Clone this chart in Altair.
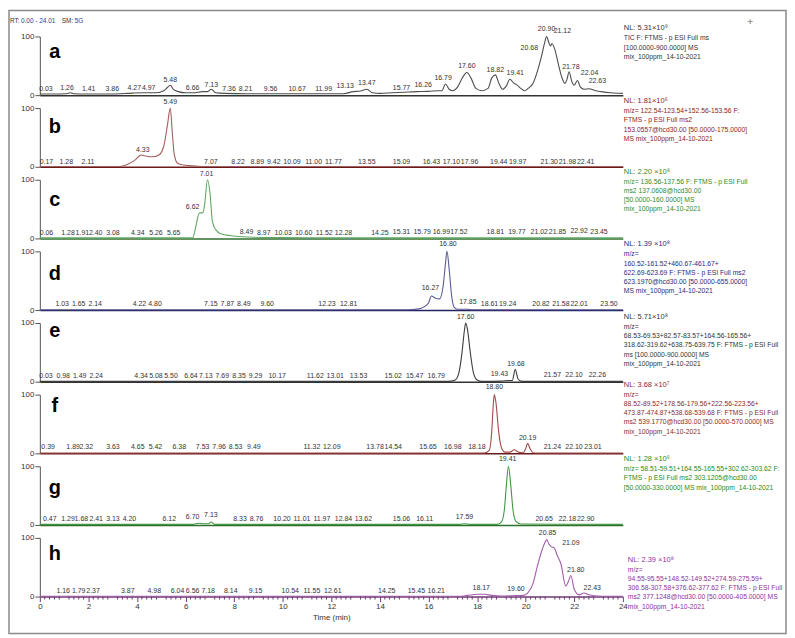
import altair as alt
import pandas as pd

FONT = "Liberation Sans, Arial, sans-serif"

# ---------------- traces (time in min, relative abundance %) ----------------
a_t = [0, 0.6, 1.1, 1.25, 1.4, 2.0, 3.0, 3.8, 4.3, 4.8, 5.1, 5.25, 5.37, 5.5, 5.7,
       6.0, 6.3, 6.7, 6.9, 7.06, 7.25, 7.6, 8.5, 9.5, 10.5, 11.5, 12.5, 12.9, 13.2, 13.46,
       13.7, 14.0, 14.5, 15.0, 15.5, 16.0, 16.4, 16.55, 16.7, 16.85, 17.0, 17.2, 17.4, 17.58, 17.75,
       17.95, 18.2, 18.45, 18.6, 18.75, 18.9, 19.05, 19.2, 19.35, 19.5, 19.65, 19.8, 19.95, 20.1, 20.3,
       20.5, 20.65, 20.78, 20.86, 20.95, 21.02, 21.08, 21.2, 21.35, 21.5, 21.62, 21.7, 21.79, 21.9, 22.0,
       22.13, 22.25, 22.4, 22.6, 22.88, 23.1, 23.5, 24.0]
a_v = [2, 2, 2.5, 4, 2.5, 2, 2, 3.5, 4, 4, 7.5, 13, 17, 10, 6,
       4, 4, 6, 6, 10, 4, 3, 2.5, 2.5, 2.5, 2.5, 2.5, 6, 7, 10,
       4, 3, 4, 5, 6, 6.5, 7.5, 7.5, 19, 10, 7.5, 14, 30, 38.5, 29,
       11.5, 7.5, 11.5, 29, 34.5, 20, 10, 15.5, 27, 21, 17, 11.5, 7.5, 11.5, 20,
       43, 66, 89, 100, 90, 84, 88, 78, 52, 29, 20, 27, 40, 23, 17,
       25, 14, 10, 11, 7.5, 6, 4, 3]

b_t = [0, 3.28, 3.6, 3.9, 4.17, 4.4, 4.65, 4.9, 5.1, 5.25, 5.37, 5.45, 5.53, 5.67, 5.9, 6.5, 7.0, 24.0]
b_v = [0.5, 0.5, 4, 11, 20, 18, 17, 20, 35, 70, 100, 60, 22, 6, 3, 1, 0.5, 0.5]

c_t = [0, 6.29, 6.42, 6.56, 6.72, 6.79, 6.9, 7.01, 7.1, 7.24, 7.45, 8.0, 8.8, 10.0, 12.0, 24.0]
c_v = [1, 1, 20, 43, 44, 60, 100, 75, 30, 15, 8, 4, 2, 1.5, 1, 1]

d_t = [0, 15.1, 15.6, 15.8, 16.0, 16.12, 16.3, 16.45, 16.6, 16.7, 16.76, 16.85, 16.95, 17.05, 17.2, 17.6, 17.8, 24.0]
d_v = [0.5, 0.5, 2, 5, 12, 24, 20, 19, 40, 80, 100, 70, 25, 5, 1.5, 1.5, 0.5, 0.5]

e_t = [0, 16.8, 17.1, 17.25, 17.38, 17.48, 17.53, 17.6, 17.72, 17.85, 18.0, 18.2, 19.0, 19.3, 19.45, 19.57, 19.68, 19.8, 20.0, 24.0]
e_v = [0.5, 0.5, 3, 15, 50, 88, 100, 90, 50, 15, 3, 0.5, 1, 2, 2, 21, 5, 1, 0.5, 0.5]

f_t = [0, 18.3, 18.5, 18.6, 18.67, 18.71, 18.78, 18.88, 19.0, 19.15, 19.35, 19.53, 19.7, 19.9, 20.0, 20.08, 20.18, 20.3, 20.5, 24.0]
f_v = [0.5, 0.5, 5, 35, 85, 100, 85, 40, 10, 2, 2, 6, 2, 1, 8, 17, 8, 1, 0.5, 0.5]

g_t = [0, 6.3, 6.55, 6.75, 6.95, 7.04, 7.2, 17.3, 17.48, 17.7, 18.8, 19.0, 19.12, 19.2, 19.29, 19.38, 19.48, 19.6, 19.8, 24.0]
g_v = [1, 1, 3, 2, 2, 5, 1, 1, 2, 1, 1, 5, 25, 65, 100, 70, 25, 6, 1.5, 1]

h_t = [0, 17.3, 17.6, 18.0, 18.3, 18.6, 19.0, 19.5, 19.9, 20.08, 20.3, 20.49, 20.76, 20.87, 20.95,
       21.05, 21.17, 21.3, 21.45, 21.65, 21.75, 21.86, 22.0, 22.2, 22.4, 22.6, 22.8, 23.5, 24.0]
h_v = [0.5, 0.5, 2, 4, 4, 2, 1, 1.5, 2, 6, 22, 53, 89, 97, 90,
       85, 83, 70, 56, 18, 25, 36, 12.5, 3, 6, 3, 1.5, 0.5, 0.5]

# ---------------- peak labels (text, drawn position in min, level %) ----------------
a_lt = ["0.03", "1.26", "1.41", "3.86", "4.27", "4.97", "5.48", "6.66", "7.13", "7.36", "8.21", "9.56", "10.67", "11.99",
        "13.13", "13.47", "15.77", "16.26", "16.79", "17.60", "18.82", "19.41", "20.68", "20.90", "21.12", "21.78", "22.04", "22.63"]
a_lx = [0.25, 1.12, 2.01, 2.98, 3.89, 4.48, 5.37, 6.29, 7.06, 7.79, 8.47, 9.5, 10.59, 11.68,
        12.57, 13.46, 14.89, 15.78, 16.6, 17.58, 18.75, 19.57, 20.15, 20.86, 21.51, 21.86, 22.63, 22.95]
a_ly = [10, 11.5, 10, 10, 11.5, 11.5, 26, 11.5, 17, 10, 10, 10, 10, 10,
        15.5, 20, 13, 17, 30, 49, 43, 38.5, 80, 113, 109, 48, 37, 24]

b_lt = ["0.17", "1.28", "2.11", "4.33", "5.49", "7.07", "8.22", "8.89", "9.42", "10.09", "11.00", "11.77", "13.55",
        "15.09", "16.43", "17.10", "17.96", "19.44", "19.97", "21.30", "21.98", "22.41"]
b_lx = [0.27, 1.09, 1.98, 4.24, 5.37, 7.04, 8.16, 8.95, 9.63, 10.38, 11.27, 12.09, 13.46,
        14.89, 16.12, 16.94, 17.69, 18.89, 19.67, 20.97, 21.72, 22.47]
b_ly = [8.5, 8.5, 8.5, 28, 110, 8.5, 8.5, 8.5, 8.5, 8.5, 8.5, 8.5, 8.5,
        8.5, 8.5, 8.5, 8.5, 8.5, 8.5, 8.5, 8.5, 8.5]

c_lt = ["0.06", "1.28", "1.91", "2.40", "3.08", "4.34", "5.26", "5.65", "6.62", "7.01", "8.49", "8.97", "10.03", "10.60",
        "11.52", "12.28", "14.25", "15.31", "15.79", "16.99", "17.52", "18.81", "19.77", "21.02", "21.85", "22.92", "23.45"]
c_lx = [0.27, 1.16, 1.75, 2.3, 3.01, 4.03, 4.78, 5.51, 6.29, 6.86, 8.51, 9.22, 10.02, 10.86,
        11.71, 12.5, 14.0, 14.89, 15.74, 16.53, 17.25, 18.75, 19.64, 20.56, 21.31, 22.2, 23.02]
c_ly = [9.6, 9.6, 9.6, 9.6, 9.6, 9.6, 9.6, 9.6, 53, 110, 11, 9.6, 9.6, 9.6,
        9.6, 9.6, 9.6, 11, 11, 11, 11, 11, 11, 11, 11, 13, 11]

d_lt = ["1.03", "1.65", "2.14", "4.22", "4.80", "7.15", "7.87", "8.49", "9.60", "12.23", "12.81",
        "16.27", "16.80", "17.85", "18.61", "19.24", "20.82", "21.58", "22.01", "23.50"]
d_lx = [0.92, 1.6, 2.28, 4.1, 4.74, 7.04, 7.72, 8.4, 9.36, 11.82, 12.71,
        16.08, 16.8, 17.62, 18.51, 19.26, 20.63, 21.45, 22.2, 23.43]
d_ly = [10, 10, 10, 10, 10, 10, 10, 10, 10, 10, 10,
        37.5, 112, 14, 10, 10, 10, 10, 10, 10]

e_lt = ["0.03", "0.98", "1.49", "2.24", "4.34", "5.08", "5.50", "6.64", "7.13", "7.69", "8.35", "9.29", "10.17",
        "11.62", "13.01", "13.53", "15.02", "15.47", "16.79", "17.60", "19.43", "19.68", "21.57", "22.10", "22.26"]
e_lx = [0.25, 0.96, 1.64, 2.32, 4.17, 4.78, 5.4, 6.22, 6.83, 7.51, 8.2, 8.88, 9.77,
        11.34, 12.16, 13.12, 14.55, 15.43, 16.32, 17.53, 18.92, 19.6, 21.1, 21.99, 22.95]
e_ly = [10, 10, 10, 10, 10, 10, 10, 10, 10, 10, 10, 10, 10,
        10, 10, 10, 10, 10, 10, 110, 12.5, 30, 11.5, 11.5, 11.5]

f_lt = ["0.39", "1.89", "2.32", "3.63", "4.65", "5.42", "6.38", "7.53", "7.96", "8.53", "9.49", "11.32",
        "12.09", "13.78", "14.54", "15.65", "16.98", "18.18", "18.80", "20.19", "21.24", "22.10", "23.01"]
f_lx = [0.34, 1.37, 1.91, 3.01, 4.03, 4.76, 5.74, 6.7, 7.38, 8.06, 8.81, 11.2,
        12.02, 13.8, 14.55, 15.98, 17.0, 17.99, 18.71, 20.08, 21.1, 21.99, 22.77]
f_ly = [10, 10, 10, 10, 10, 10, 10, 10, 10, 10, 10, 10,
        10, 10, 10, 10, 10, 10, 113, 26.5, 10, 10, 10]

g_lt = ["0.47", "1.29", "1.68", "2.41", "3.13", "4.20", "6.12", "6.70", "7.13", "8.33", "8.76", "10.20",
        "11.01", "11.97", "12.84", "13.62", "15.06", "16.11", "17.59", "19.41", "20.65", "22.18", "22.90"]
g_lx = [0.41, 1.16, 1.71, 2.32, 3.01, 3.69, 5.33, 6.29, 7.04, 8.24, 8.92, 9.97,
        10.79, 11.61, 12.5, 13.32, 14.89, 15.84, 17.48, 19.26, 20.76, 21.72, 22.47]
g_ly = [10, 10, 10, 10, 10, 10, 10, 13, 16.7, 10, 10, 10,
        10, 10, 10, 10, 10, 10, 13, 112, 10, 10, 10]

h_lt = ["1.16", "1.79", "2.37", "3.87", "4.98", "6.04", "6.56", "7.18", "8.14", "9.15", "10.54",
        "11.55", "12.61", "14.25", "15.45", "16.21", "18.17", "19.60", "20.85", "21.09", "21.80", "22.43"]
h_lx = [0.96, 1.6, 2.19, 3.62, 4.71, 5.67, 6.29, 6.93, 7.86, 8.88, 10.31,
        11.2, 12.06, 14.28, 15.5, 16.32, 18.17, 19.6, 20.9, 21.86, 22.06, 22.74]
h_ly = [10, 10, 10, 10, 10, 10, 10, 10, 10, 10, 10,
        10, 10, 10, 10, 10, 15, 12.5, 108, 92, 45, 15]

# ---------------- scan-filter info text ----------------
a_nl = "NL: 5.31×10⁹"
a_info = "TIC F: FTMS - p ESI Full ms\n[100.0000-900.0000]  MS\nmix_100ppm_14-10-2021"
b_nl = "NL: 1.81×10⁶"
b_info = ("m/z= 122.54-123.54+152.56-153.56 F:\nFTMS - p ESI Full ms2\n"
          "153.0557@hcd30.00 [50.0000-175.0000]\nMS mix_100ppm_14-10-2021")
c_nl = "NL: 2.20 ×10⁸"
c_info = ("m/z= 136.56-137.56 F: FTMS - p ESI Full\nms2 137.0608@hcd30.00\n"
          "[50.0000-160.0000]  MS\nmix_100ppm_14-10-2021")
d_nl = "NL: 1.39 ×10⁸"
d_info = ("m/z=\n160.52-161.52+460.67-461.67+\n622.69-623.69 F: FTMS - p ESI Full ms2\n"
          "623.1970@hcd30.00 [50.0000-655.0000]\nMS mix_100ppm_14-10-2021")
e_nl = "NL: 5.71×10⁸"
e_info = ("m/z=\n68.53-69.53+82.57-83.57+164.56-165.56+\n318.62-319.62+638.75-639.75 F: FTMS - p ESI Full\n"
          "ms [100.0000-900.0000]  MS\nmix_100ppm_14-10-2021")
f_nl = "NL: 3.68 ×10⁷"
f_info = ("m/z=\n88.52-89.52+178.56-179.56+222.56-223.56+\n473.87-474.87+538.68-539.68 F: FTMS - p ESI Full\n"
          "ms2 539.1770@hcd30.00 [50.0000-570.0000]  MS\nmix_100ppm_14-10-2021")
g_nl = "NL: 1.28 ×10⁶"
g_info = ("m/z= 58.51-59.51+164.55-165.55+302.62-303.62 F:\nFTMS - p ESI Full ms2 303.1205@hcd30.00\n"
          "[50.0000-330.0000]  MS mix_100ppm_14-10-2021")
h_nl = "NL: 2.39 ×10⁸"
h_info = ("m/z=\n94.55-95.55+148.52-149.52+274.59-275.59+\n306.58-307.58+376.62-377.62 F: FTMS - p ESI Full\n"
          "ms2 377.1248@hcd30.00 [50.0000-405.0000]  MS\nmix_100ppm_14-10-2021")

letters = ["a", "b", "c", "d", "e", "f", "g", "h"]
trace_colors = ["#4d4d4d", "#a35f5f", "#62a862", "#5c5c96", "#3d3d3d", "#a34a4a", "#3f983f", "#a35cab"]
base_colors = ["#333333", "#6b1a1a", "#2f6f2f", "#22225f", "#333333", "#6b1a1a", "#2f6f2f", "#6e3a75"]
text_colors = ["#333333", "#8b2323", "#2e8b2e", "#2a2a80", "#333333", "#8b2a2a", "#238b23", "#8f2fa0"]

W, H = 586, 59
letter_y = [16, 19, 20, 23, 8, 11, 22, 16]
nl_y = [-8, -7, -8, -7, -6, -10, -7, 22]
info_dx = [1, 1, 1, 1, 1, 1, 1, 5]

x_major = list(range(0, 25))
x_minor = [round(i * 0.2, 1) for i in range(121) if i % 5 != 0]
yticks = list(range(0, 101, 10))
xscale = alt.Scale(domain=[0, 24], nice=False, zero=False)
yscale = alt.Scale(domain=[0, 100], nice=False)


def make_panel(i, t, v, lt, lx, ly, nl, info):
    bottom = (i == 7)
    if bottom:
        xaxis = alt.Axis(values=x_major, format="d", tickSize=5,
                         labelOverlap=False, labelFlush=False, labelFont=FONT, labelFontSize=8,
                         labelColor="#333333", labelPadding=1, grid=False,
                         domainColor=base_colors[i], tickColor=base_colors[i], domainWidth=1.5,
                         title="Time (min)", titleFont=FONT, titleFontSize=8,
                         titleFontWeight="normal", titleColor="#333333", titlePadding=3)
    else:
        xaxis = alt.Axis(labels=False, ticks=False, title=None, grid=False,
                         domainColor=base_colors[i], domainWidth=1.5)
    yaxis = alt.Axis(values=yticks, labelExpr="datum.value % 50 === 0 ? datum.label : ''",
                     tickSize={"condition": {"test": "datum.value % 50 === 0", "value": 5}, "value": 3},
                     labelOverlap=False, labelFlush=False, labelFont=FONT, labelFontSize=8,
                     labelColor="#333333", labelPadding=1, grid=False, title=None,
                     domainColor="#555555", tickColor="#555555")

    df = pd.DataFrame({"t": t, "v": v})
    ldf = pd.DataFrame({"txt": lt, "x": lx, "y": ly})

    line = alt.Chart(df).mark_line(color=trace_colors[i], strokeWidth=1.1, interpolate="monotone").encode(
        x=alt.X("t:Q", scale=xscale, axis=xaxis),
        y=alt.Y("v:Q", scale=yscale, axis=yaxis),
    )
    labels = alt.Chart(ldf).mark_text(font=FONT, fontSize=7, color="#333333", baseline="middle").encode(
        x=alt.X("x:Q", scale=xscale), y=alt.Y("y:Q", scale=yscale), text="txt:N"
    )
    letter = alt.Chart(pd.DataFrame({"s": [letters[i]]})).mark_text(
        font=FONT, fontSize=20, fontWeight="bold", color="#000000",
        align="center", baseline="middle").encode(x=alt.value(15), y=alt.value(letter_y[i]), text="s:N")
    nl_txt = alt.Chart(pd.DataFrame({"s": [nl]})).mark_text(
        font=FONT, fontSize=7.5, color=text_colors[i], align="left", baseline="middle").encode(
        x=alt.value(W + info_dx[i]), y=alt.value(nl_y[i]), text="s:N")
    info_txt = alt.Chart(pd.DataFrame({"s": [info]})).mark_text(
        font=FONT, fontSize=6.8, color=text_colors[i], align="left", baseline="top",
        lineBreak="\n", lineHeight=9.3).encode(
        x=alt.value(W + info_dx[i]), y=alt.value(nl_y[i] + 7), text="s:N")
    layers = [line, labels, letter, nl_txt, info_txt]

    if bottom:
        minor = alt.Chart(pd.DataFrame({"m": x_minor})).mark_rule(
            color=base_colors[i], strokeWidth=1).encode(
            x=alt.X("m:Q", scale=xscale), y=alt.value(H), y2=alt.value(H + 3))
        layers.append(minor)

    if i == 0:
        frame = alt.Chart(pd.DataFrame({"k": [0]})).mark_rect(
            fillOpacity=0, stroke="#8a8a8a", strokeWidth=1.5).encode(
            x=alt.value(-31), x2=alt.value(750), y=alt.value(-26), y2=alt.value(600))
        hdr_s = ["RT:", "0.00 - 24.01", "SM:", "5G"]
        hdr_c = ["#333333", "#2a3f9a", "#333333", "#2a3f9a"]
        hdr_x = [-30, -19, 22, 35]
        hdr_layers = []
        for j in range(4):
            hdr_layers.append(alt.Chart(pd.DataFrame({"s": [hdr_s[j]]})).mark_text(
                font=FONT, fontSize=6.5, align="left", baseline="middle", color=hdr_c[j]).encode(
                x=alt.value(hdr_x[j]), y=alt.value(-16), text="s:N"))
        pin = alt.Chart(pd.DataFrame({"s": ["+"]})).mark_text(
            font=FONT, fontSize=10, fontWeight="bold", color="#999999").encode(
            x=alt.value(714), y=alt.value(-15), text="s:N")
        layers = [frame] + layers + hdr_layers + [pin]

    return alt.layer(*layers).properties(width=W, height=H)


series = [
    (a_t, a_v, a_lt, a_lx, a_ly, a_nl, a_info),
    (b_t, b_v, b_lt, b_lx, b_ly, b_nl, b_info),
    (c_t, c_v, c_lt, c_lx, c_ly, c_nl, c_info),
    (d_t, d_v, d_lt, d_lx, d_ly, d_nl, d_info),
    (e_t, e_v, e_lt, e_lx, e_ly, e_nl, e_info),
    (f_t, f_v, f_lt, f_lx, f_ly, f_nl, f_info),
    (g_t, g_v, g_lt, g_lx, g_ly, g_nl, g_info),
    (h_t, h_v, h_lt, h_lx, h_ly, h_nl, h_info),
]

panels = [make_panel(i, *s) for i, s in enumerate(series)]

chart = alt.vconcat(*panels, spacing=13, bounds="flush").properties(
    padding=0, background="white"
).configure_view(stroke=None)

chart.save("out.html", embed_options={"renderer": "svg", "actions": False})
